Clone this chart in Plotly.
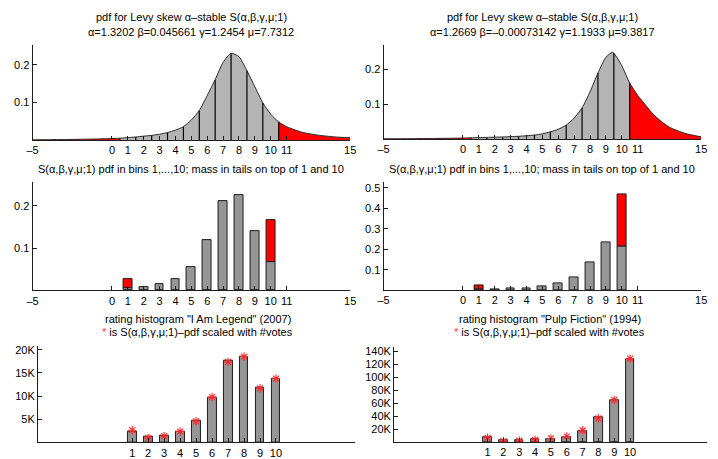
import plotly.graph_objects as go

# ---------------- data ----------------
tl_x = [-5, -4, -3, -2, -1, 0, 0.5, 1, 1.5, 2, 2.5, 3, 3.5, 4, 4.5, 5, 5.5, 6, 6.5,
        7, 7.5, 8, 8.5, 9, 9.5, 10, 10.5, 11, 11.5, 12, 13, 14, 15]
tl_pdf = [0.0012, 0.0016, 0.002, 0.0026, 0.0034, 0.0045, 0.0055, 0.007, 0.0088, 0.011, 0.013,
          0.016, 0.0205, 0.027, 0.036, 0.054, 0.079, 0.119, 0.161, 0.207, 0.231, 0.222,
          0.185, 0.142, 0.0995, 0.069, 0.0487, 0.036, 0.028, 0.021, 0.0135, 0.009, 0.0066]

tr_x = [-5, -4, -3, -2, -1, 0, 0.5, 1, 1.5, 2, 2.5, 3, 3.5, 4, 4.5, 5, 5.5, 6, 6.5,
        7, 7.5, 8, 8.5, 9, 9.4, 9.5, 10, 10.5, 11, 11.5, 12, 12.5, 13, 14, 15]
tr_pdf = [0.0008, 0.001, 0.0013, 0.0017, 0.0022, 0.003, 0.0036, 0.0042, 0.0048, 0.0055,
          0.006, 0.007, 0.008, 0.0095, 0.0115, 0.015, 0.0207, 0.028, 0.040, 0.060, 0.0895,
          0.135, 0.189, 0.234, 0.248, 0.246, 0.210, 0.160, 0.125, 0.097, 0.070, 0.050,
          0.034, 0.016, 0.0065]

bin_edges = [0.5, 1.5, 2.5, 3.5, 4.5, 5.5, 6.5, 7.5, 8.5, 9.5, 10.5]
bins = [1, 2, 3, 4, 5, 6, 7, 8, 9, 10]

ml_core = [0.0055, 0.0087, 0.015, 0.0265, 0.054, 0.119, 0.211, 0.2255, 0.141, 0.068]
ml_tail = [0.0225, 0, 0, 0, 0, 0, 0, 0, 0, 0.098]
mr_core = [0.006, 0.004, 0.0065, 0.010, 0.018, 0.031, 0.061, 0.137, 0.235, 0.215]
mr_tail = [0.015, 0, 0, 0, 0, 0, 0, 0, 0, 0.251]

legend_votes = [2360, 1140, 1560, 2420, 4780, 9640, 17570, 18500, 11780, 13700]
legend_fit = [2640, 920, 1350, 2360, 4560, 9780, 17400, 18550, 11700, 13800]
pulp_votes = [7800, 3000, 3200, 3800, 5000, 7800, 17400, 38800, 65200, 128000]
pulp_fit = [6800, 1900, 2300, 3800, 5800, 8800, 18400, 36800, 65000, 128500]

top_ticks = [-5, 0, 1, 2, 3, 4, 5, 6, 7, 8, 9, 10, 11, 15]
top_ticktext = ["\u20135", "0", "1", "2", "3", "4", "5", "6", "7", "8", "9", "10", "11", "15"]

# ---------------- layout helpers ----------------
W, H = 718, 459
FONT = "Liberation Sans, Arial, sans-serif"
GRAY_FILL = "rgb(180,180,180)"
BAR_GRAY = "rgb(150,150,150)"
AX = "rgb(30,30,30)"
STAR = "rgb(255,40,40)"

def xd(a, b):
    return [a / W, b / W]

def yd(top, bottom):
    return [1 - bottom / H, 1 - top / H]

fig = go.Figure()

def add_curve(xs, ys, xa, ya):
    lo = 0.5
    hi = 10.5
    segs = [
        ([x for x in xs if x <= lo], "red"),
        ([x for x in xs if lo <= x <= hi], GRAY_FILL),
        ([x for x in xs if x >= hi], "red"),
    ]
    for sx, col in segs:
        sy = [ys[xs.index(v)] for v in sx]
        fig.add_trace(go.Scatter(x=sx, y=sy, mode="lines", line=dict(width=0, shape="spline", smoothing=0.6),
                                 fill="tozeroy", fillcolor=col, xaxis=xa, yaxis=ya,
                                 showlegend=False, hoverinfo="skip"))
    vx, vy = [], []
    for e in bin_edges:
        vx += [e, e, None]
        vy += [0, ys[xs.index(e)], None]
    fig.add_trace(go.Scatter(x=vx, y=vy, mode="lines", line=dict(color="black", width=1.2),
                             xaxis=xa, yaxis=ya, showlegend=False, hoverinfo="skip"))
    fig.add_trace(go.Scatter(x=xs, y=ys, mode="lines",
                             line=dict(color="rgb(40,40,40)", width=1, shape="spline", smoothing=0.6),
                             xaxis=xa, yaxis=ya, showlegend=False, hoverinfo="skip"))

add_curve(tl_x, tl_pdf, "x", "y")
add_curve(tr_x, tr_pdf, "x2", "y2")

def add_stack(core, tail, xa, ya):
    fig.add_trace(go.Bar(x=bins, y=core, width=0.55, marker=dict(color=BAR_GRAY, line=dict(color=AX, width=1)),
                         xaxis=xa, yaxis=ya, showlegend=False))
    tb = [b for b, t in zip(bins, tail) if t > 0]
    tv = [t for t in tail if t > 0]
    tbase = [c for c, t in zip(core, tail) if t > 0]
    fig.add_trace(go.Bar(x=tb, y=tv, base=tbase, width=0.55,
                         marker=dict(color="red", line=dict(color=AX, width=1)),
                         xaxis=xa, yaxis=ya, showlegend=False))

add_stack(ml_core, ml_tail, "x3", "y3")
add_stack(mr_core, mr_tail, "x4", "y4")

def add_hist(votes, fit, xa, ya):
    fig.add_trace(go.Bar(x=bins, y=votes, width=0.55, marker=dict(color=BAR_GRAY, line=dict(color=AX, width=1)),
                         xaxis=xa, yaxis=ya, showlegend=False))
    fig.add_trace(go.Scatter(x=bins, y=fit, mode="markers",
                             marker=dict(symbol="asterisk-open", size=7, color=STAR,
                                         line=dict(color=STAR, width=1.1)),
                             xaxis=xa, yaxis=ya, showlegend=False))

add_hist(legend_votes, legend_fit, "x5", "y5")
add_hist(pulp_votes, pulp_fit, "x6", "y6")

axcommon = dict(showline=True, linecolor=AX, linewidth=1, showgrid=False, zeroline=False,
                ticks="inside", ticklen=4, tickcolor=AX, mirror=False,
                tickfont=dict(family=FONT, size=11, color="black"), fixedrange=True)

layout = dict(
    width=W, height=H, margin=dict(l=0, r=0, t=0, b=0),
    paper_bgcolor="white", plot_bgcolor="white", barmode="overlay", bargap=0,
    font=dict(family=FONT, size=11, color="black"),
    xaxis=dict(domain=xd(27, 350), range=[-5, 15], tickvals=top_ticks, ticktext=top_ticktext, anchor="y", **axcommon),
    yaxis=dict(domain=yd(43, 139.5), range=[0, 0.254], tickvals=[0.1, 0.2], anchor="x", **axcommon),
    xaxis2=dict(domain=xd(384, 707), range=[-5, 15], tickvals=top_ticks, ticktext=top_ticktext, anchor="y2", **axcommon),
    yaxis2=dict(domain=yd(43, 138.3), range=[0, 0.27], tickvals=[0.1, 0.2], anchor="x2", **axcommon),
    xaxis3=dict(domain=xd(27, 350), range=[-5, 15], tickvals=top_ticks, ticktext=top_ticktext, anchor="y3", **axcommon),
    yaxis3=dict(domain=yd(181.7, 291), range=[0, 0.256], tickvals=[0.1, 0.2], anchor="x3", **axcommon),
    xaxis4=dict(domain=xd(384, 707), range=[-5, 15], tickvals=top_ticks, ticktext=top_ticktext, anchor="y4", **axcommon),
    yaxis4=dict(domain=yd(182, 290.7), range=[0, 0.527], tickvals=[0.1, 0.2, 0.3, 0.4, 0.5], anchor="x4", **axcommon),
    xaxis5=dict(domain=xd(32.5, 355), range=[-4.9, 14.95], tickvals=bins, anchor="y5", **axcommon),
    yaxis5=dict(domain=yd(346.7, 444.3), range=[0, 20900], tickvals=[5000, 10000, 15000, 20000],
                ticktext=["5K", "10K", "15K", "20K"], anchor="x5", **axcommon),
    xaxis6=dict(domain=xd(394.7, 713), range=[-4.9, 14.86], tickvals=bins, anchor="y6", **axcommon),
    yaxis6=dict(domain=yd(348.3, 444.1), range=[0, 146000],
                tickvals=[20000, 40000, 60000, 80000, 100000, 120000, 140000],
                ticktext=["20K", "40K", "60K", "80K", "100K", "120K", "140K"], anchor="x6", **axcommon),
)
fig.update_layout(**layout)

def title(text, xc, yc):
    fig.add_annotation(text=text, x=xc / W, y=1 - yc / H, xref="paper", yref="paper",
                       showarrow=False, xanchor="center", yanchor="middle",
                       font=dict(family=FONT, size=11, color="black"))

title("pdf for Levy skew \u03b1\u2013stable S(\u03b1,\u03b2,\u03b3,\u03bc;1)", 188.5, 15)
title("\u03b1=1.3202 \u03b2=0.045661 \u03b3=1.2454 \u03bc=7.7312", 188.5, 30)
title("pdf for Levy skew \u03b1\u2013stable S(\u03b1,\u03b2,\u03b3,\u03bc;1)", 545.5, 15)
title("\u03b1=1.2669 \u03b2=\u20130.00073142 \u03b3=1.1933 \u03bc=9.3817", 545.5, 30)
title("S(\u03b1,\u03b2,\u03b3,\u03bc;1) pdf in bins 1,...,10; mass in tails on top of 1 and 10", 188.5, 168)
title("S(\u03b1,\u03b2,\u03b3,\u03bc;1) pdf in bins 1,...,10; mass in tails on top of 1 and 10", 545.5, 168)
title("rating histogram \"I Am Legend\" (2007)", 195, 320)
title("<span style='color:rgb(255,60,60)'>*</span> is S(\u03b1,\u03b2,\u03b3,\u03bc;1)\u2013pdf scaled with #votes", 195, 333)
title("rating histogram \"Pulp Fiction\" (1994)", 553, 320)
title("<span style='color:rgb(255,60,60)'>*</span> is S(\u03b1,\u03b2,\u03b3,\u03bc;1)\u2013pdf scaled with #votes", 553, 333)

fig.write_html("out.html")
